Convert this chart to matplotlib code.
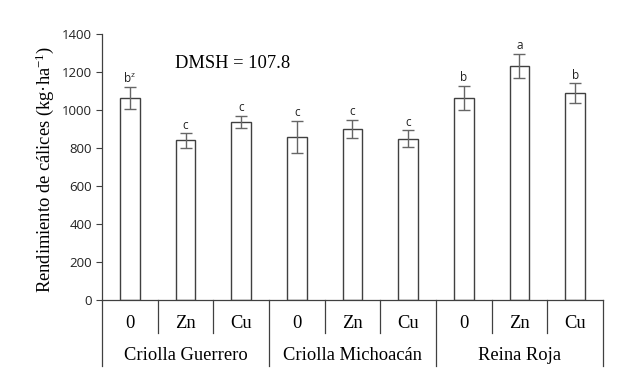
import matplotlib
matplotlib.use("Agg")
import matplotlib.pyplot as plt
import matplotlib.transforms as mtransforms

treatments = ["0", "Zn", "Cu", "0", "Zn", "Cu", "0", "Zn", "Cu"]
groups = ["Criolla Guerrero", "Criolla Michoacán", "Reina Roja"]
values = [1063, 840, 936, 860, 902, 850, 1064, 1234, 1088]
errors = [60, 38, 33, 84, 48, 44, 65, 63, 52]
letters = ["b$^{z}$", "c", "c", "c", "c", "c", "b", "a", "b"]
yticks = [0, 200, 400, 600, 800, 1000, 1200, 1400]

plt.rcParams["mathtext.fontset"] = "custom"
plt.rcParams["mathtext.rm"] = "Liberation Serif"
plt.rcParams["mathtext.it"] = "Liberation Serif"
plt.rcParams["mathtext.default"] = "regular"

serif = ["Liberation Serif", "DejaVu Serif"]
sans = ["Open Sans", "DejaVu Sans"]
line_c = "#404040"
fs = 13.3

fig = plt.figure(figsize=(6.27, 3.78), dpi=100)
ax = fig.add_axes([0.1627, 0.2063, 0.799, 0.7037])

x = list(range(len(values)))
ax.bar(x, values, width=0.35, color="white", edgecolor=line_c, linewidth=1.0, zorder=2)
ax.errorbar(x, values, yerr=errors, fmt="none", ecolor="#666666", elinewidth=1.0,
            capsize=4, capthick=1.0, zorder=3)
for xi, v, e, lab in zip(x, values, errors, letters):
    ax.text(xi, v + e + 8, lab, ha="center", va="bottom", fontsize=8.5,
            family=sans, color="#222222")

ax.set_xlim(-0.5, len(values) - 0.5)
ax.set_ylim(0, 1400)
ax.set_yticks(yticks)
ax.set_yticklabels([str(t) for t in yticks], family=sans, fontsize=9.5, color="#222222")
ax.tick_params(axis="y", length=4, width=0.8, color=line_c, pad=3)
ax.set_xticks([])
for s in ["top", "right"]:
    ax.spines[s].set_visible(False)
for s in ["left", "bottom"]:
    ax.spines[s].set_color(line_c)
    ax.spines[s].set_linewidth(0.9)

fig.text(45 / 627, 1 - 169 / 378, "Rendimiento de cálices (kg·ha$^{-1}$)", rotation=90,
         ha="center", va="center", family=serif, fontsize=fs)

trans = mtransforms.blended_transform_factory(ax.transData, ax.transAxes)
row1 = -0.124
row2 = -0.248
for i in range(len(values) + 1):
    b = i - 0.5
    bottom = row2 if i % 3 == 0 else row1
    ax.plot([b, b], [0, bottom], transform=trans, color=line_c, lw=0.9, clip_on=False)
for xi, t in zip(x, treatments):
    ax.text(xi, -0.0865, t, transform=trans, ha="center", va="center",
            family=serif, fontsize=fs)
for gi, g in enumerate(groups):
    ax.text(gi * 3 + 1, -0.207, g, transform=trans, ha="center", va="center",
            family=serif, fontsize=fs)

ax.text(0.146, 0.891, "DMSH = 107.8", transform=ax.transAxes, ha="left", va="center",
        family=serif, fontsize=fs)

fig.savefig("out.png", dpi=100)
